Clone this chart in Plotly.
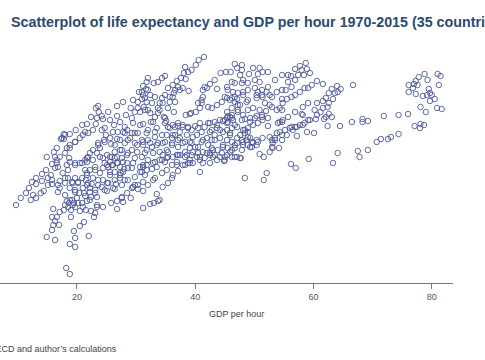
import plotly.graph_objects as go

left_edge = [(9.7,69.5),(10.5,70.2),(11.4,70.7),(11.9,71.2),(12.4,71.8),(13.1,72.2),(14.1,72.6),(14.8,73.0),(12.2,70.0),(13.1,70.2),(12.6,70.5),(13.9,70.7),(14.4,70.9),(15.1,71.5),(15.8,71.6),(14.1,71.9),(13.1,71.6),(15.1,72.2),(15.6,72.5),(15.8,72.0),(16.3,73.2),(15.8,73.6),(16.6,73.7)]
low_cluster = [(16.0,69.1),(15.8,68.3),(16.6,68.3),(16.3,67.9),(16.0,67.5),(17.0,67.5),(15.8,67.0),(14.9,66.3),(16.3,66.0),(19.5,66.9),(20.5,67.4),(21.2,67.8),(22.0,66.4),(19.7,66.2),(18.8,65.6),(19.7,65.3),(18.2,63.2),(18.8,62.6)]
low_band = [(19.0,68.3),(17.1,68.8),(17.8,69.0),(18.5,69.3),(19.0,69.0),(19.7,69.3),(20.5,68.9),(21.5,69.0),(22.4,68.9),(22.9,68.3),(23.1,68.7),(23.4,69.5),(24.4,69.3),(25.8,69.7),(26.8,69.9),(27.8,69.8),(26.8,69.1),(27.6,70.2),(28.5,70.7),(29.1,70.2),(31.2,69.2),(32.4,69.6),(33.0,69.7),(33.7,69.9),(33.5,70.6),(31.2,70.9),(30.3,71.1),(29.8,71.5),(29.3,71.2),(32.0,71.5),(32.9,72.0),(33.2,72.2),(31.5,72.5),(31.0,72.8),(31.8,73.0),(32.7,73.1),(33.5,73.3)]
mid_left = [(16.8,70.8),(17.1,71.2),(16.8,71.5),(17.1,71.9),(18.0,72.2),(17.6,72.7),(18.5,73.0),(18.3,73.5),(18.8,73.8),(19.7,73.5),(20.9,73.7),(21.7,73.8),(18.0,70.5),(18.3,69.9),(18.7,69.7),(18.0,69.5),(19.2,70.0),(20.0,70.2),(20.4,70.7),(20.9,69.7),(21.7,69.9),(20.2,69.7),(19.5,69.7),(19.7,71.0),(18.8,71.2),(19.3,71.7),(20.2,71.7),(21.0,71.2),(21.7,71.5),(21.2,70.7),(22.2,70.8),(23.1,70.7),(23.4,70.3),(22.4,70.3),(21.4,70.4),(21.5,72.0),(21.7,72.5),(21.4,73.0),(23.1,73.0),(23.9,72.7),(22.7,72.2),(23.6,72.0),(22.5,71.6),(24.2,71.3),(25.1,70.9),(25.3,71.7),(26.4,71.1),(26.6,71.6),(27.6,71.5),(27.3,72.2),(25.6,72.5),(26.4,72.8),(27.4,72.7),(28.0,73.1),(29.3,73.2),(28.6,72.0),(25.1,73.5),(25.9,73.5),(26.8,73.7),(27.8,73.8),(29.5,73.7),(30.7,73.3),(31.8,73.5),(32.9,73.7)]
upper_left = [(32.0,82.2),(31.8,81.8),(33.0,81.7),(33.7,81.8),(31.2,81.4),(30.5,80.8),(31.7,81.1),(32.4,80.5),(31.2,80.5),(29.5,80.0),(30.3,79.8),(31.0,80.1),(31.8,79.8),(27.8,79.8),(26.8,79.4),(29.1,79.2),(30.3,79.2),(31.3,79.3),(29.8,78.8),(30.7,78.8),(32.0,79.0),(23.6,79.4),(23.2,79.2),(23.7,78.8),(24.2,78.4),(24.4,78.1),(25.3,78.8),(22.4,78.3),(23.4,78.2),(20.9,77.5),(21.7,77.6),(19.8,77.0),(23.2,77.6),(22.7,77.0),(18.8,76.6),(17.8,76.6),(17.3,76.1),(17.8,76.1),(21.4,76.8),(20.5,76.2),(19.7,75.8),(18.8,75.5),(18.3,75.2),(16.6,75.2),(16.1,74.8),(14.9,74.3),(16.3,74.3),(17.1,74.3),(18.0,74.7),(18.7,74.2)]
upper_left_inner = [(24.7,77.2),(25.6,78.0),(26.8,78.4),(28.3,78.5),(26.3,77.5),(27.3,77.8),(28.1,77.3),(29.3,78.2),(30.7,77.5),(31.2,77.6),(29.5,77.7),(32.5,77.8),(33.2,78.3),(33.7,78.7),(24.2,77.0),(24.9,76.5),(24.6,76.0),(25.8,75.6),(26.8,76.1),(26.9,76.8),(27.8,76.8),(28.5,77.0),(29.3,76.7),(30.3,76.7),(31.8,76.7),(33.2,76.8),(28.6,76.0),(29.8,75.7),(31.2,75.8),(32.4,75.7),(33.5,75.5),(23.6,75.5),(22.7,75.0),(22.2,74.7),(26.4,74.8),(27.6,75.0),(28.6,74.7),(30.2,74.8),(31.8,75.0),(32.9,74.7),(25.6,74.3),(26.8,74.3),(23.9,74.3),(21.7,74.2),(29.8,74.2),(31.0,74.3)]
center_top = [(41.5,84.3),(40.6,84.0),(40.1,83.5),(38.3,83.3),(39.4,83.0),(38.8,82.8),(38.1,82.7),(37.6,82.2),(38.4,82.1),(36.9,81.9),(34.9,82.4),(34.4,82.2),(36.2,81.5),(35.4,81.2),(37.1,81.3),(37.9,81.2),(38.9,80.9),(36.4,80.7),(35.7,80.3),(36.6,79.8),(34.9,80.5),(34.5,79.7),(35.4,79.2),(36.4,78.8),(34.0,79.0),(34.7,78.3),(35.1,77.9),(36.2,77.5),(35.7,77.2),(37.1,77.4),(37.9,77.3),(38.8,77.3),(35.2,76.5),(36.2,76.5),(37.4,76.2),(38.6,76.5),(39.6,76.3),(34.5,75.7),(36.1,75.7),(37.1,75.3),(38.3,75.8),(39.4,75.7),(40.5,75.3),(35.4,74.8),(36.9,74.5),(38.3,74.8),(39.6,74.8),(40.8,74.3),(34.5,74.5)]
center_high = [(42.0,81.2),(41.3,81.0),(42.5,81.6),(43.3,82.0),(43.7,81.1),(44.3,82.7),(45.2,82.8),(46.0,82.8),(46.7,83.6),(47.9,83.5),(47.1,83.2),(47.9,83.0),(47.6,82.5),(46.7,81.7),(46.2,81.8),(47.9,81.7),(45.5,81.0),(45.0,80.3),(46.4,80.8),(47.2,80.7),(46.2,80.2),(47.1,80.1),(48.1,80.5),(48.9,81.0),(48.1,82.0),(49.1,82.6),(49.8,83.2),(50.9,83.2),(50.6,82.6),(51.4,82.8),(52.3,82.8),(50.1,82.0),(50.9,81.8),(48.9,81.7),(50.1,81.2),(51.3,81.0),(52.3,81.3),(53.5,82.0),(54.7,82.5),(52.6,80.5),(53.8,80.8),(50.4,80.5),(51.4,80.3),(48.9,80.0)]
right_high = [(55.7,82.5),(56.2,82.4),(56.9,83.1),(57.7,83.4),(58.7,83.7),(58.0,83.0),(58.9,83.1),(59.4,82.7),(57.4,82.5),(58.4,82.5),(56.9,82.0),(55.7,81.8),(56.3,81.3),(54.7,81.0),(55.3,81.0),(60.6,81.9),(59.7,81.5),(59.1,81.2),(58.5,81.2),(57.7,80.8),(56.9,80.5),(56.3,80.3),(55.5,80.1),(54.7,80.1),(59.1,79.7),(60.6,79.7),(58.2,79.3),(56.9,78.8),(55.7,78.3),(54.7,77.8),(54.0,77.7),(58.0,78.6),(60.2,79.0),(60.6,78.5),(60.4,78.1),(59.4,78.0),(58.5,77.7),(57.7,77.5),(56.9,77.3),(56.0,77.2),(55.2,77.0),(54.7,76.5),(58.9,76.8),(60.1,76.7),(57.2,76.4),(53.5,76.2),(53.0,76.0),(53.1,75.7),(54.2,75.2),(51.4,76.2),(50.4,75.5),(49.3,75.3),(49.6,75.8),(48.1,75.8),(47.1,75.7),(46.7,75.2),(47.9,75.0),(48.7,76.0),(50.9,74.6),(51.6,74.3),(52.6,74.8)]
center_mid = [(53.0,79.3),(52.0,78.9),(51.3,78.5),(50.4,78.4),(49.3,78.2),(48.4,78.1),(47.9,78.0),(54.7,79.0),(53.8,79.0),(51.4,78.0),(52.3,77.4),(50.6,77.7),(49.8,77.5),(48.9,77.2),(48.1,77.0),(48.4,76.7),(48.9,76.3),(47.6,76.5),(45.9,78.3),(45.4,78.2),(44.7,77.9),(46.2,78.5),(45.5,78.4),(46.4,78.0),(46.7,77.5),(45.5,77.8),(44.2,78.0),(43.3,77.8),(42.5,77.7),(40.8,77.7),(40.0,77.4),(39.4,77.0),(40.8,79.2),(41.1,79.7),(41.3,80.3),(40.1,78.8),(39.3,78.7),(38.4,78.5),(42.2,79.3),(42.8,79.2),(43.7,79.5),(44.5,79.8),(45.4,80.2),(46.7,79.8),(47.6,79.5),(47.2,79.0),(48.7,79.8)]
center_low = [(41.6,77.3),(42.5,76.8),(43.7,77.2),(44.7,76.8),(45.9,76.7),(41.3,76.0),(42.2,75.5),(43.3,76.0),(44.2,76.2),(45.4,76.0),(46.2,75.8),(42.0,74.7),(42.8,75.2),(43.8,75.0),(44.7,75.3),(45.9,74.8),(43.0,74.3),(44.2,74.3),(46.7,74.3),(47.6,74.2)]
lower_edge = [(34.0,70.0),(34.5,71.3),(35.4,71.7),(36.1,72.2),(36.2,72.5),(37.1,72.9),(40.8,72.8),(37.9,73.5),(38.8,73.7),(39.6,73.7),(41.3,73.7),(42.5,73.7),(43.7,74.0),(44.9,73.9),(46.2,74.3),(47.1,74.3),(47.7,74.2),(48.4,72.2),(52.1,72.7),(51.6,72.0),(53.1,75.2),(56.2,73.6),(57.0,73.2),(59.2,74.1),(34.4,72.7),(35.2,73.0),(36.1,73.5),(36.9,73.8),(34.9,73.8),(34.0,74.0),(35.2,74.2),(36.2,74.3),(37.4,74.5),(38.6,74.5),(39.1,74.0),(40.3,74.3),(41.6,74.2),(42.5,74.7),(43.3,74.5),(44.5,74.7),(45.0,74.3),(48.1,75.5),(48.9,75.5),(49.8,75.7),(50.6,75.8),(52.6,76.3),(53.5,76.0),(54.7,76.0),(55.5,76.5),(56.5,77.0),(58.2,77.5)]
right_band = [(61.6,81.6),(64.0,81.4),(66.7,81.5),(63.1,81.1),(64.6,81.1),(62.6,80.7),(63.6,80.7),(64.1,80.8),(62.1,80.2),(61.6,79.9),(63.3,80.1),(62.6,79.7),(61.6,79.2),(62.4,79.3),(61.2,78.8),(62.6,78.6),(63.1,78.3),(62.1,78.3),(61.8,78.1),(62.4,77.4),(64.5,77.4),(66.5,77.8),(68.3,77.8),(68.3,78.1),(69.2,77.9),(71.9,78.4),(74.4,78.5),(76.0,78.6),(74.4,76.6),(73.1,76.3),(72.6,76.1),(71.4,76.1),(70.7,75.8),(69.2,75.0),(67.5,74.9),(67.8,74.3),(64.1,74.7),(63.3,73.7)]
far_right = [(78.8,82.6),(81.0,82.6),(81.5,82.4),(77.8,82.3),(79.3,82.0),(77.3,81.9),(76.1,81.5),(77.0,81.6),(77.6,81.5),(81.2,81.5),(76.8,81.2),(76.1,80.8),(77.3,80.6),(79.5,81.1),(78.5,80.4),(79.2,80.5),(80.0,80.5),(79.7,80.7),(80.5,80.1),(79.7,79.9),(78.1,79.3),(79.0,78.8),(80.9,79.2),(81.7,79.1),(84.1,79.2),(77.1,77.4),(78.1,77.6),(78.7,77.5),(78.0,77.2)]
dense_left = [(17.5,76.2),(18.0,76.5),(18.8,75.2),(19.7,75.8),(21.0,76.5),(21.9,76.7),(16.6,74.0),(16.8,73.3),(19.7,73.7),(20.5,73.7),(21.4,74.0),(21.9,74.3),(22.7,74.0),(23.4,74.7),(23.9,75.2),(23.6,75.7),(24.4,74.2),(25.1,74.5),(25.9,74.3),(26.4,74.2),(25.6,73.8),(24.7,73.7),(25.3,73.3),(26.1,73.5),(26.9,73.7),(24.4,73.2),(25.6,72.8),(23.1,73.3),(22.2,73.0),(21.7,72.7),(20.9,72.2),(20.2,71.8),(19.7,72.2),(19.2,71.8),(18.5,72.2),(18.0,71.7),(21.9,71.7),(22.2,71.2),(23.1,71.0),(23.6,71.5),(24.4,72.0),(25.1,71.7),(26.4,72.0),(27.3,72.5),(28.1,72.0),(27.8,72.8),(28.6,73.2),(29.8,72.3),(30.7,72.8),(31.2,73.3),(27.6,74.2),(28.5,74.5),(29.3,75.0),(30.2,75.5),(31.0,76.0),(27.3,75.0),(28.1,75.7),(29.0,76.2),(29.8,76.7),(26.4,75.5),(27.3,76.0),(28.1,76.7),(25.6,76.2),(26.1,76.8),(24.7,75.8),(28.5,73.7),(27.3,73.3),(19.7,70.8),(18.8,70.0),(19.3,69.5),(21.0,69.3),(22.2,70.0),(23.4,69.3),(27.6,70.3),(24.7,71.0),(26.1,71.2),(29.5,71.3),(30.3,71.5),(31.2,71.8)]
dense_mid = [(31.0,80.8),(32.0,81.0),(31.5,80.2),(32.7,79.7),(33.2,80.3),(34.0,79.7),(34.4,80.2),(33.7,79.2),(32.4,78.7),(31.5,79.0),(32.0,77.0),(32.9,77.8),(33.5,77.2),(34.4,76.5),(33.2,76.3),(32.0,76.0),(31.2,75.5),(32.7,75.3),(33.7,75.7),(34.9,75.8),(31.5,74.7),(34.0,74.8),(35.2,75.0),(36.1,75.5),(35.4,74.3),(34.4,74.0),(33.2,73.8),(32.0,74.0),(31.2,73.5),(36.6,77.3),(35.4,77.3),(37.1,77.7),(37.9,77.5),(38.8,77.2),(37.4,76.8),(36.6,76.5),(36.1,76.2),(37.1,76.0),(37.9,75.7),(39.1,75.8),(40.3,76.5),(41.1,76.8),(40.5,77.2),(42.2,77.7),(43.7,77.5),(42.8,77.0),(44.2,77.0),(45.4,77.0),(43.3,76.5),(42.0,76.2),(42.8,76.0),(41.1,75.8),(40.0,75.3),(39.1,75.2),(37.1,74.5),(38.3,74.3),(39.4,74.5),(40.5,74.7),(41.3,74.8),(43.0,75.0),(44.7,75.5),(45.5,75.2),(42.5,74.5),(45.0,74.0),(40.8,74.0),(39.1,73.7),(38.3,73.5),(36.9,73.5),(40.5,79.7),(41.1,80.0),(39.1,78.6),(45.0,78.0),(36.6,81.0),(37.4,81.0),(36.2,80.3),(35.7,79.8),(34.9,78.2),(34.9,77.7),(41.6,81.3)]
dense_right = [(45.4,81.3),(48.1,80.8),(46.7,80.3),(45.9,80.0),(47.2,79.5),(46.2,79.2),(45.4,78.8),(47.2,78.8),(48.1,78.5),(48.9,79.0),(49.8,79.2),(50.6,80.8),(50.4,80.2),(51.3,80.5),(52.1,80.8),(53.0,80.3),(51.8,79.7),(52.6,79.5),(54.3,79.2),(54.8,79.7),(50.9,79.0),(51.3,78.3),(52.3,78.2),(50.1,78.2),(49.3,77.8),(54.3,77.8),(54.8,78.0),(58.2,78.5),(59.1,78.0),(57.2,77.3),(56.3,77.3),(54.3,76.8),(53.8,76.7),(46.2,77.2),(47.1,77.3),(45.4,77.7),(46.2,78.2),(48.4,77.0),(48.9,76.8),(45.9,76.5),(47.1,76.2),(47.9,76.0),(49.3,76.2),(50.4,76.0),(46.7,75.5),(49.6,75.3),(46.2,75.0),(53.0,75.3),(45.4,74.5)]

strips = [left_edge, low_cluster, low_band, mid_left, upper_left, upper_left_inner, center_top, center_high,
          right_high, center_mid, center_low, lower_edge, right_band, far_right, dense_left, dense_mid, dense_right]
gdp = [p[0] for s in strips for p in s]
life = [p[1] for s in strips for p in s]

title_text = "Scatterplot of life expectancy and GDP per hour 1970-2015 (35 countries)"
source_text = "Source: OECD and author’s calculations"
x_title = "GDP per hour"
x_ticks = [20, 40, 60, 80]

fig = go.Figure(go.Scatter(x=gdp, y=life, mode="markers", cliponaxis=False,
    marker=dict(symbol="circle-open", size=5.5, color="#4f5b98", line=dict(width=0.9))))
fig.update_layout(
    width=485, height=360, margin=dict(l=0, r=32, t=40, b=77),
    paper_bgcolor="white", plot_bgcolor="white", showlegend=False,
    font=dict(family="Liberation Sans, Arial, sans-serif", color="#555555", size=9),
    title=dict(text="<b>"+title_text+"</b>", x=11/485, xref="container", xanchor="left",
               y=1-22/360, yref="container", yanchor="middle",
               font=dict(size=14.3, color="#2d4a6e", family="Liberation Sans, Arial, sans-serif")),
    xaxis=dict(range=[7, 83.6], tickvals=x_ticks, ticks="outside", ticklen=5, tickcolor="#777777", tickwidth=1,
               showline=True, linecolor="#777777", linewidth=1, showgrid=False, zeroline=False,
               tickfont=dict(size=9, color="#555555")),
    yaxis=dict(range=[61.7, 86], visible=False),
    annotations=[
        dict(text=x_title, xref="paper", yref="paper", x=236/453, y=-(314-283)/243, xanchor="center", yanchor="middle",
             showarrow=False, font=dict(size=9, color="#444444")),
        dict(text=source_text, xref="paper", yref="paper", x=119/453, y=-(349-283)/243, xanchor="right", yanchor="middle",
             showarrow=False, font=dict(size=9, color="#444444")),
        dict(text="0", xref="paper", yref="paper", x=2/453, y=-(296-283)/243, xanchor="right", yanchor="middle",
             showarrow=False, font=dict(size=9, color="#555555")),
    ],
)
fig.write_html("out.html", config=dict(displayModeBar=False), post_script="document.body.style.margin='0';document.documentElement.style.overflow='hidden';")
